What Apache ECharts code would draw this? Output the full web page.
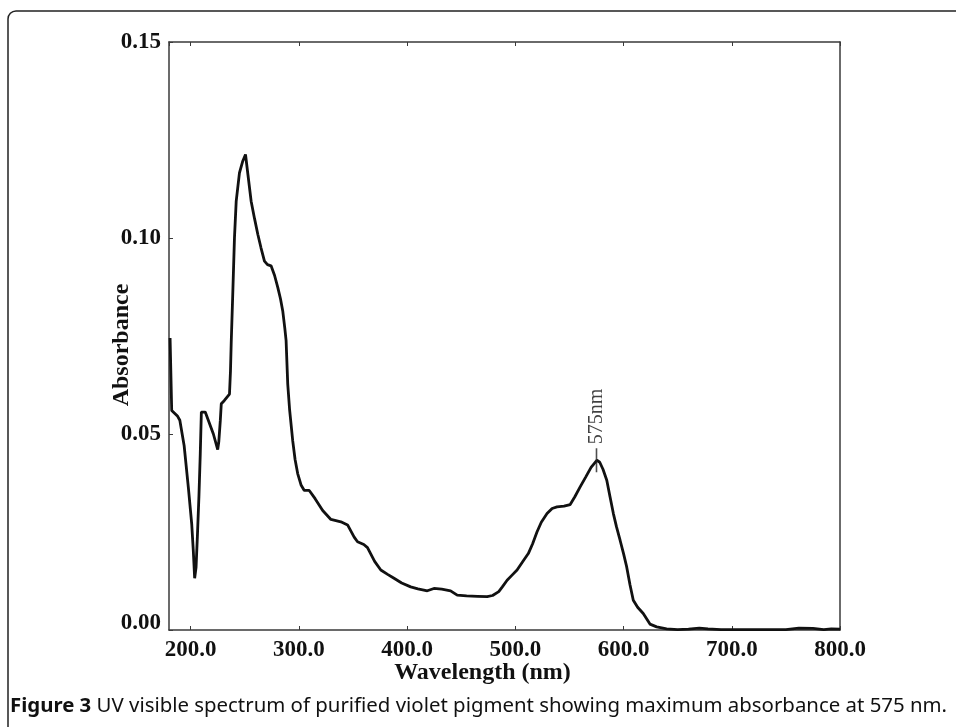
<!DOCTYPE html>
<html>
<head>
<meta charset="utf-8">
<script src="https://cdn.jsdelivr.net/npm/echarts@6/dist/echarts.min.js"></script>
<style>
  html, body { margin: 0; padding: 0; background: #fff; }
  #chart { width: 956px; height: 727px; }
</style>
</head>
<body>
<div id="chart"></div>
<script>
  // spectrum
  var wavelength = [
    181, 182.5, 184, 188, 190, 194, 198, 201, 202.5, 203.7, 205, 206.2, 207.7, 208.9, 209.9,
    213.5, 217, 221, 225, 226, 227.4, 228.3, 231, 235.9, 236.8, 237.5, 239, 240.5, 242.1,
    245.1, 248, 250.7, 253, 255.9, 259, 262.1, 265, 268.2, 271, 274.3, 277.5, 280.5, 283,
    285.1, 287, 288.2, 289.7, 291.5, 294.3, 296.5, 298.9, 302, 305, 309.6, 315, 322, 329.6,
    338.8, 345, 351.1, 354.2, 360, 363.4, 370, 375.7, 382, 387.9, 395, 403.3, 410, 418.7,
    424.8, 432, 440.2, 446.3, 455, 465, 474, 479, 484.7, 488, 492.4, 497, 501.6, 507.7,
    512, 516, 520, 524, 529.3, 534, 538.5, 545, 550.7, 555, 559.9, 565, 570, 575.3, 578,
    581, 584.5, 587.5, 590.6, 593.5, 596.8, 600, 602.9, 606, 609, 613, 618.2, 624.4, 630.6,
    639.8, 650, 660, 670, 678, 690, 720, 750, 762, 775, 785, 792, 800
  ];
  var absorbance = [
    0.0745, 0.0560, 0.0556, 0.0545, 0.0535, 0.0470, 0.0360, 0.0270, 0.0200, 0.0132, 0.0160, 0.0237, 0.0344, 0.0450, 0.0556,
    0.0556, 0.0530, 0.0500, 0.0460, 0.0480, 0.0534, 0.0577, 0.0585, 0.0602, 0.0660, 0.0734, 0.0865, 0.1001, 0.1094,
    0.1166, 0.1195, 0.1213, 0.1160, 0.1094, 0.1050, 0.1009, 0.0975, 0.0941, 0.0932, 0.0929, 0.0905, 0.0874, 0.0845,
    0.0814, 0.0770, 0.0738, 0.0628, 0.0560, 0.0483, 0.0435, 0.0399, 0.0370, 0.0356, 0.0356, 0.0335, 0.0305, 0.0282,
    0.0276, 0.0268, 0.0237, 0.0225, 0.0218, 0.0210, 0.0175, 0.0153, 0.0142, 0.0132, 0.0120, 0.0110, 0.0105, 0.0100,
    0.0106, 0.0104, 0.0100, 0.0089, 0.0087, 0.0086, 0.0085, 0.0088, 0.0098, 0.0110, 0.0127, 0.0140, 0.0153, 0.0178,
    0.0195, 0.0220, 0.0250, 0.0275, 0.0297, 0.0310, 0.0314, 0.0316, 0.0320, 0.0340, 0.0365, 0.0390, 0.0415, 0.0433, 0.0428,
    0.0410, 0.0382, 0.0340, 0.0297, 0.0263, 0.0229, 0.0195, 0.0161, 0.0115, 0.0076, 0.0058, 0.0042, 0.0015, 0.0008,
    0.0003, 0.0001, 0.0002, 0.0005, 0.0003, 0.0001, 0.0001, 0.0001, 0.0005, 0.0004, 0.0001, 0.0003, 0.0002
  ];
  var peak = [575, 0.0433];
  var peakLabel = '575nm';
  var caption = 'UV visible spectrum of purified violet pigment showing maximum absorbance at 575 nm.';

  var serif = '"Liberation Serif", "Times New Roman", serif';
  var axisColor = '#3a3a3a';

  var points = [];
  for (var i = 0; i < wavelength.length; i++) {
    points.push([wavelength[i], absorbance[i]]);
  }

  var myChart = echarts.init(document.getElementById('chart'));
  myChart.setOption({
    animation: false,
    grid: {
      left: 169,
      right: 116,
      top: 42,
      bottom: 97
    },
    xAxis: [{
      type: 'value',
      min: 180,
      max: 800,
      name: 'Wavelength (nm)',
      nameLocation: 'middle',
      nameGap: 31,
      nameMoveOverlap: false,
      nameTextStyle: {
        fontFamily: serif,
        fontWeight: 'bold',
        fontSize: 24,
        color: '#111',
        padding: [0, 44, 0, 0]
      },
      axisLine: { onZero: false, lineStyle: { color: axisColor, width: 1.5 } },
      axisTick: { inside: true, length: 4, lineStyle: { color: axisColor } },
      axisLabel: {
        margin: 9,
        fontFamily: serif,
        fontWeight: 'bold',
        fontSize: 23,
        color: '#111',
        showMinLabel: false,
        formatter: function (v) {
          return v % 100 === 0 ? v.toFixed(1) : '';
        }
      },
      splitLine: { show: false }
    }, {
      type: 'value',
      position: 'top',
      min: 180,
      max: 800,
      axisLine: { onZero: false, lineStyle: { color: axisColor, width: 1.5 } },
      axisTick: { inside: true, length: 4, lineStyle: { color: axisColor } },
      axisLabel: { show: false },
      splitLine: { show: false }
    }],
    yAxis: [{
      type: 'value',
      min: 0,
      max: 0.15,
      interval: 0.05,
      name: 'Absorbance',
      nameLocation: 'middle',
      nameGap: 35,
      nameMoveOverlap: false,
      nameTextStyle: {
        fontFamily: serif,
        fontWeight: 'bold',
        fontSize: 24,
        color: '#111',
        padding: [0, 18, 0, 0]
      },
      axisLine: { show: true, onZero: false, lineStyle: { color: axisColor, width: 1.5 } },
      axisTick: { show: true, inside: true, length: 4, lineStyle: { color: axisColor } },
      axisLabel: {
        margin: 8,
        fontFamily: serif,
        fontWeight: 'bold',
        fontSize: 23,
        color: '#111',
        formatter: function (v) {
          // the zero label sits a little above its tick in the original
          return v === 0 ? '{lift|0.00}' : v.toFixed(2);
        },
        rich: {
          lift: {
            fontFamily: serif,
            fontWeight: 'bold',
            fontSize: 23,
            color: '#111',
            padding: [0, 0, 14, 0]
          }
        }
      },
      splitLine: { show: false }
    }, {
      type: 'value',
      position: 'right',
      min: 0,
      max: 0.15,
      interval: 0.05,
      axisLine: { show: true, onZero: false, lineStyle: { color: axisColor, width: 1.5 } },
      axisTick: { show: false },
      axisLabel: { show: false },
      splitLine: { show: false }
    }],
    series: [{
      type: 'line',
      data: points,
      showSymbol: false,
      lineStyle: { color: '#111', width: 2.8 },
      z: 3
    }, {
      type: 'scatter',
      data: [peak],
      symbol: 'rect',
      symbolSize: [1.6, 24],
      itemStyle: { color: '#222' },
      label: {
        show: true,
        formatter: peakLabel,
        position: 'top',
        distance: 4,
        rotate: 90,
        align: 'left',
        verticalAlign: 'middle',
        fontFamily: serif,
        fontSize: 20,
        color: '#111'
      },
      z: 4
    }],
    graphic: [{
      type: 'rect',
      shape: { x: 8, y: 11, width: 1200, height: 1200, r: 8 },
      style: { fill: 'none', stroke: '#222', lineWidth: 1.5 }
    }, {
      type: 'text',
      left: 10,
      top: 696,
      style: {
        text: '{b|Figure 3} ' + caption,
        rich: {
          b: { fontWeight: 'bold', fontFamily: '"Noto Sans", sans-serif', fontSize: 20.4, fill: '#111' }
        },
        fontFamily: '"Noto Sans", sans-serif',
        fontSize: 20.4,
        fill: '#111'
      }
    }]
  });
</script>
</body>
</html>
